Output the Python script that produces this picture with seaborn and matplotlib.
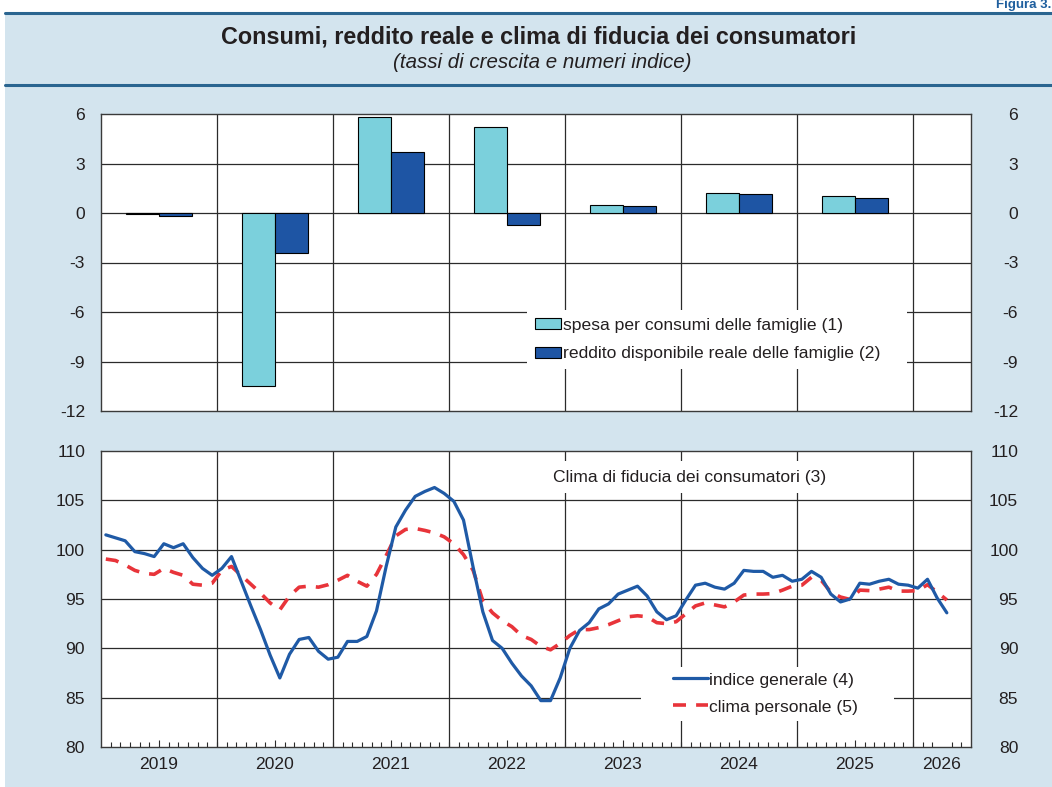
import matplotlib
matplotlib.use("Agg")
import numpy as np
import pandas as pd
import matplotlib.pyplot as plt
from matplotlib.patches import Rectangle
from matplotlib.lines import Line2D
import seaborn as sns

sns.set_style("white")
plt.rcParams["font.family"] = ["Liberation Sans", "DejaVu Sans"]
plt.rcParams["axes.unicode_minus"] = False

# --- data -----------------------------------------------------------------
years = [2019, 2020, 2021, 2022, 2023, 2024, 2025]
spesa = [-0.05, -10.5, 5.8, 5.2, 0.5, 1.2, 1.05]
reddito = [-0.2, -2.4, 3.7, -0.7, 0.45, 1.15, 0.9]
bar_labels = ["spesa per consumi delle famiglie (1)",
              "reddito disponibile reale delle famiglie (2)"]

year_labels = ["2019", "2020", "2021", "2022", "2023", "2024", "2025", "2026"]

# monthly, Jan 2019 - Apr 2026
indice = [101.5, 101.2, 100.9, 99.8, 99.6, 99.3, 100.6, 100.2, 100.6, 99.2, 98.1, 97.4,
          98.1, 99.3, 96.8, 94.3, 91.9, 89.3, 87.0, 89.4, 90.9, 91.1, 89.7, 88.9,
          89.1, 90.7, 90.7, 91.2, 93.8, 98.3, 102.3, 104.0, 105.4, 105.9, 106.3, 105.7,
          104.9, 103.0, 98.2, 93.7, 90.8, 90.0, 88.5, 87.2, 86.2, 84.7, 84.7, 87.0,
          90.0, 91.8, 92.6, 94.0, 94.5, 95.5, 95.9, 96.3, 95.3, 93.7, 92.9, 93.3,
          94.9, 96.4, 96.6, 96.2, 96.0, 96.6, 97.9, 97.8, 97.8, 97.2, 97.4, 96.8,
          97.0, 97.8, 97.2, 95.5, 94.7, 95.0, 96.6, 96.5, 96.8, 97.0, 96.5, 96.4,
          96.1, 97.0, 95.1, 93.6]
clima = [99.05, 98.9, 98.45, 97.9, 97.6, 97.5, 98.1, 97.7, 97.4, 96.5, 96.4, 96.6,
         97.9, 98.3, 97.4, 96.5, 95.6, 94.6, 93.9, 95.3, 96.2, 96.3, 96.2, 96.45,
         96.9, 97.4, 96.8, 96.3, 97.5, 99.4, 101.4, 102.05, 102.15, 101.95, 101.7, 101.3,
         100.6, 99.5, 97.9, 94.8, 93.6, 92.8, 92.2, 91.3, 90.9, 90.2, 89.85, 90.5,
         91.3, 91.9, 91.9, 92.1, 92.4, 92.8, 93.2, 93.3, 93.2, 92.6, 92.5, 92.7,
         93.5, 94.3, 94.6, 94.4, 94.2, 94.7, 95.4, 95.5, 95.5, 95.55, 95.9, 96.3,
         96.4, 97.2, 96.9, 95.7, 95.2, 94.95, 95.9, 95.85, 96.0, 96.2, 95.8, 95.8,
         95.85, 96.45, 95.7, 94.9]
line_labels = ["indice generale (4)", "clima personale (5)"]

# --- styling --------------------------------------------------------------
bg = "#d3e4ee"
band = "#2a6590"
light_bar = "#7bd0dc"
dark_bar = "#1e55a4"
blue_line = "#1f5aa6"
red_line = "#e8343a"
grid_c = "#2b2b2b"
txt_c = "#231f20"
fs = 12.6

fig = plt.figure(figsize=(10.52, 7.87), dpi=100)
top_line = 1 - 13 / 787
fig.patches.append(Rectangle((5 / 1052, 0), 1, top_line, transform=fig.transFigure,
                             facecolor=bg, edgecolor="none", zorder=-10))
for yy in [top_line, 1 - 85 / 787]:
    fig.add_artist(Line2D([5 / 1052, 1], [yy, yy], color=band, lw=2.2,
                          transform=fig.transFigure))
fig.text(0.999, 1 - 5 / 787, "Figura 3.", fontsize=9.5, fontweight="bold",
         color="#1f5f9e", va="center", ha="right")
fig.text(0.512, 1 - 37 / 787, "Consumi, reddito reale e clima di fiducia dei consumatori",
         fontsize=16.8, fontweight="bold", color=txt_c, ha="center", va="center")
fig.text(0.515, 1 - 62 / 787, "(tassi di crescita e numeri indice)",
         fontsize=14.8, fontstyle="italic", color=txt_c, ha="center", va="center")

left, width = 101 / 1052, 870 / 1052
ax1 = fig.add_axes([left, 1 - 411 / 787, width, 297 / 787])
ax2 = fig.add_axes([left, 1 - 747 / 787, width, 296 / 787])
x0, x1 = 2019, 2026.5

# --- top panel: bars ------------------------------------------------------
bars = pd.DataFrame({
    "anno": years * 2,
    "valore": spesa + reddito,
    "serie": [bar_labels[0]] * len(years) + [bar_labels[1]] * len(years),
})
bars["pos"] = bars["anno"] + 0.5
sns.barplot(data=bars, x="pos", y="valore", hue="serie", native_scale=True,
            width=0.57, palette=[light_bar, dark_bar], saturation=1,
            edgecolor="black", linewidth=0.8, errorbar=None, ax=ax1, zorder=2)
ax1.set_xlim(x0, x1)
ax1.set_ylim(-12, 6)
ax1.set_yticks(np.arange(-12, 7, 3))
ax1.set_xticks([])
ax1.set_xlabel("")
ax1.set_ylabel("")
ax1.legend_.remove()
h, l = ax1.get_legend_handles_labels()
leg1 = ax1.legend(h, l, loc="upper left", bbox_to_anchor=(0.49, 0.34 - 0.22, 0.437, 0.22),
                  mode="expand", fontsize=fs, frameon=True, fancybox=False,
                  framealpha=1, facecolor="white", edgecolor="none",
                  handlelength=1.45, handleheight=0.6, handletextpad=0.15,
                  labelspacing=0.77, borderaxespad=0, borderpad=0.45)
for t in leg1.get_texts():
    t.set_color(txt_c)

# --- bottom panel: lines --------------------------------------------------
months = 2019 + (np.arange(len(indice)) + 0.5) / 12
sns.lineplot(x=months, y=indice, color=blue_line, lw=2.3, ax=ax2,
             label=line_labels[0], zorder=4)
sns.lineplot(x=months, y=clima, color=red_line, lw=2.6, ax=ax2,
             label=line_labels[1], zorder=3)
ax2.lines[-1].set_dashes((3.6, 2.8))
ax2.lines[-1].set_dash_capstyle("butt")
ax2.set_xlim(x0, x1)
ax2.set_ylim(80, 110)
ax2.set_yticks(np.arange(80, 111, 5))
ax2.set_xlabel("")
ax2.set_ylabel("")
# white area behind the line legend (wider than the legend itself)
ax2.add_patch(Rectangle(((641 - 101) / 870, (747 - 721) / 296), 253 / 870, 54 / 296,
                        transform=ax2.transAxes, facecolor="white", edgecolor="none",
                        zorder=5))
leg2 = ax2.legend(loc="upper left", bbox_to_anchor=(0.652, 0.27 - 0.2, 0.26, 0.2),
                  mode="expand", fontsize=fs, frameon=False,
                  handlelength=1.95, handletextpad=0.1, labelspacing=0.67,
                  borderaxespad=0, borderpad=0.3)
leg2.set_zorder(6)
for t in leg2.get_texts():
    t.set_color(txt_c)
ax2.text(0.677, 0.912, "Clima di fiducia dei consumatori (3)", transform=ax2.transAxes,
         fontsize=fs, color=txt_c, ha="center", va="center", zorder=6,
         bbox=dict(boxstyle="square,pad=0.5", facecolor="white", edgecolor="none"))

# x axis: year labels in the middle of each year, monthly minor ticks
label_pos = [y + 0.5 for y in years] + [2026.25]
ax2.set_xticks(label_pos)
ax2.set_xticklabels(year_labels, fontsize=fs, color=txt_c)
ax2.set_xticks(2019 + np.arange(1, 90) / 12, minor=True)
ax2.tick_params(axis="x", which="major", direction="in", length=5.4, width=0.8,
                color=grid_c, pad=7, bottom=True)
ax2.tick_params(axis="x", which="minor", direction="in", length=3.6, width=0.8,
                color=grid_c, bottom=True)
ax2.xaxis.get_major_ticks()[-1].tick1line.set_visible(False)

# grids, spines and y labels on both sides
for ax, ticks in [(ax1, np.arange(-12, 7, 3)), (ax2, np.arange(80, 111, 5))]:
    ax.set_facecolor("white")
    for v in ticks[1:-1]:
        ax.axhline(v, color=grid_c, lw=0.9, zorder=0.5)
    for yr in range(2020, 2027):
        ax.axvline(yr, color=grid_c, lw=0.9, zorder=0.5)
    for s in ax.spines.values():
        s.set_visible(True)
        s.set_color("#3a3a3a")
        s.set_linewidth(1.0)
    ax.tick_params(axis="y", length=0, pad=11.5, labelsize=fs, labelcolor=txt_c)
    axr = ax.twinx()
    axr.set_ylim(ax.get_ylim())
    axr.set_yticks(ticks)
    axr.tick_params(axis="y", length=0, pad=34, labelsize=fs, labelcolor=txt_c)
    for t in axr.get_yticklabels():
        t.set_horizontalalignment("right")
    for s in axr.spines.values():
        s.set_visible(False)

fig.savefig("out.png", dpi=100, facecolor="white")
